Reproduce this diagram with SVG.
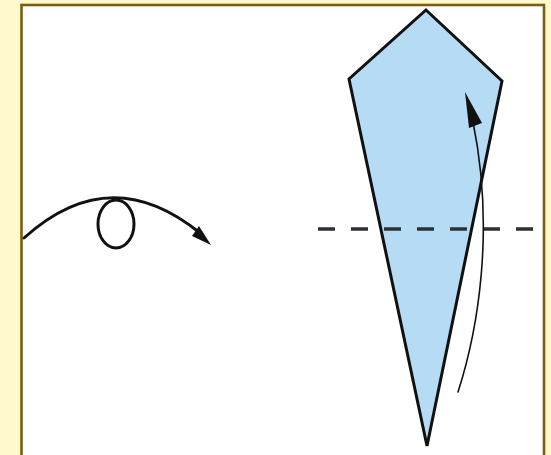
<svg xmlns="http://www.w3.org/2000/svg" width="551" height="455" viewBox="0 0 551 455">
<style>
.ink{fill:none;stroke:#111;stroke-linecap:round;stroke-linejoin:round}
.head{fill:#111;stroke:none}
</style>
<rect x="0" y="0" width="551" height="455" fill="#fff9cb"/>
<rect x="21.5" y="5" width="522.5" height="470" fill="#fff" stroke="#7a5e10" stroke-width="2.6"/>
<g id="kite">
<polygon points="426,10 502,81 427,446 349,79" fill="#b6dcf5" stroke="#111" stroke-width="3" stroke-linejoin="miter"/>
</g>
<g id="fold-line">
<line x1="318" y1="229" x2="536" y2="229" stroke="#2b3136" stroke-width="3.5" stroke-dasharray="17 16"/>
</g>
<g id="connectors">
<g id="turn-arrow">
<path class="ink" stroke-width="3" d="M24,238 Q110,160 200,233"/>
<ellipse class="ink" stroke-width="3" cx="116" cy="224" rx="18" ry="24"/>
<polygon class="head" points="211,245 192,236 199,226"/>
</g>
<g id="fold-arrow">
<path class="ink" stroke-width="1.6" d="M458,392 C478,330 495,230 473,122"/>
<polygon class="head" points="465,92 482,123 469,128"/>
</g>
</g>
</svg>
